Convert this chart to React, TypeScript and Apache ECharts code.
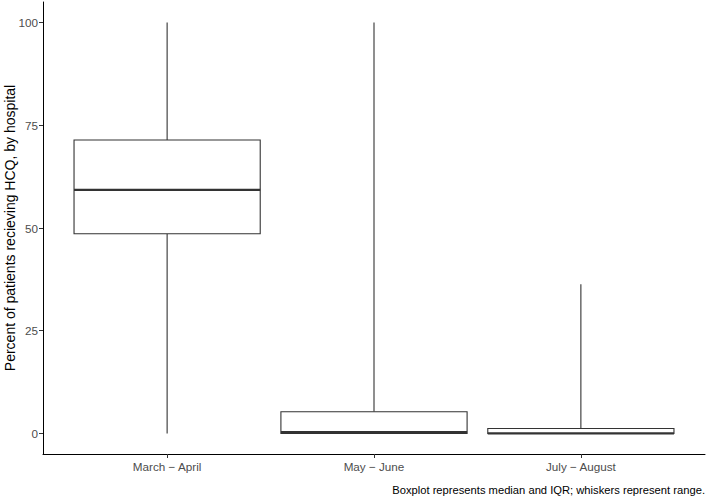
import React, { useEffect, useRef } from "react";
import * as echarts from "echarts";

const categories = ["March − April", "May − June", "July − August"];
const minValues = [0, 0, 0];
const q1Values = [48.6, 0, 0];
const medianValues = [59.3, 0.3, 0];
const q3Values = [71.4, 5.3, 1.2];
const maxValues = [100, 100, 36.3];
const yTicks = [0, 25, 50, 75, 100];
const caption = "Boxplot represents median and IQR; whiskers represent range.";
const yTitle = "Percent of patients recieving HCQ, by hospital";

const FONT = "'Liberation Sans', Arial, Helvetica, sans-serif";

export default function App() {
  const ref = useRef<HTMLDivElement>(null);
  useEffect(() => {
    if (!ref.current) return;
    const chart = echarts.init(ref.current, null, { renderer: "svg" });
    const data = categories.map((_, i) => [
      i + 1,
      minValues[i],
      q1Values[i],
      medianValues[i],
      q3Values[i],
      maxValues[i],
    ]);
    chart.setOption({
      animation: false,
      backgroundColor: "#ffffff",
      grid: {
        left: 43,
        right: 3,
        top: 2,
        bottom: 46,
        containLabel: false,
        outerBoundsMode: "none",
      },
      xAxis: {
        type: "value",
        min: 0.4,
        max: 3.6,
        splitLine: { show: false },
        axisLine: { show: true, onZero: false, lineStyle: { color: "#000000", width: 1 } },
        axisTick: {
          show: true,
          length: 4,
          customValues: [1, 2, 3],
          lineStyle: { color: "#333333", width: 1 },
        },
        axisLabel: {
          customValues: [1, 2, 3],
          formatter: (v: number) => categories[Math.round(v) - 1] ?? "",
          color: "#4d4d4d",
          fontSize: 11.7,
          fontFamily: FONT,
          margin: 6,
        },
      },
      yAxis: {
        type: "value",
        min: -5,
        max: 105,
        splitLine: { show: false },
        axisLine: { show: true, onZero: false, lineStyle: { color: "#000000", width: 1 } },
        axisTick: {
          show: true,
          length: 4,
          customValues: yTicks,
          lineStyle: { color: "#333333", width: 1 },
        },
        axisLabel: {
          customValues: yTicks,
          color: "#4d4d4d",
          fontSize: 11.7,
          fontFamily: FONT,
          margin: 5,
        },
      },
      graphic: [
        {
          type: "text",
          x: 10,
          y: 228,
          rotation: Math.PI / 2,
          style: {
            text: yTitle,
            fill: "#000000",
            fontSize: 14,
            fontFamily: FONT,
            align: "center",
            verticalAlign: "middle",
          },
        },
        {
          type: "text",
          right: 3,
          top: 484,
          style: {
            text: caption,
            fill: "#000000",
            fontSize: 11.2,
            fontFamily: FONT,
          },
        },
      ],
      series: [
        {
          type: "custom",
          data,
          encode: { x: 0, y: [1, 2, 3, 4, 5] },
          renderItem: (params: any, api: any) => {
            const x = api.value(0);
            const mn = api.value(1);
            const q1 = api.value(2);
            const md = api.value(3);
            const q3 = api.value(4);
            const mx = api.value(5);
            const w = api.size([0.9, 0])[0];
            const pMin = api.coord([x, mn]);
            const pQ1 = api.coord([x, q1]);
            const pMd = api.coord([x, md]);
            const pQ3 = api.coord([x, q3]);
            const pMax = api.coord([x, mx]);
            const left = pMd[0] - w / 2;
            const stroke = "#333333";
            return {
              type: "group",
              children: [
                {
                  type: "line",
                  shape: { x1: pMax[0], y1: pMax[1], x2: pQ3[0], y2: pQ3[1] },
                  style: { stroke, lineWidth: 1.1 },
                },
                {
                  type: "line",
                  shape: { x1: pQ1[0], y1: pQ1[1], x2: pMin[0], y2: pMin[1] },
                  style: { stroke, lineWidth: 1.1 },
                },
                {
                  type: "rect",
                  shape: { x: left, y: pQ3[1], width: w, height: pQ1[1] - pQ3[1] },
                  style: { fill: "#ffffff", stroke, lineWidth: 1.1 },
                },
                {
                  type: "line",
                  shape: { x1: left, y1: pMd[1], x2: left + w, y2: pMd[1] },
                  style: { stroke, lineWidth: 2.2 },
                },
              ],
            };
          },
        },
      ],
    });
    return () => chart.dispose();
  }, []);
  return (
    <div
      ref={ref}
      style={{ position: "fixed", left: 0, top: 0, width: 708, height: 500 }}
    />
  );
}
